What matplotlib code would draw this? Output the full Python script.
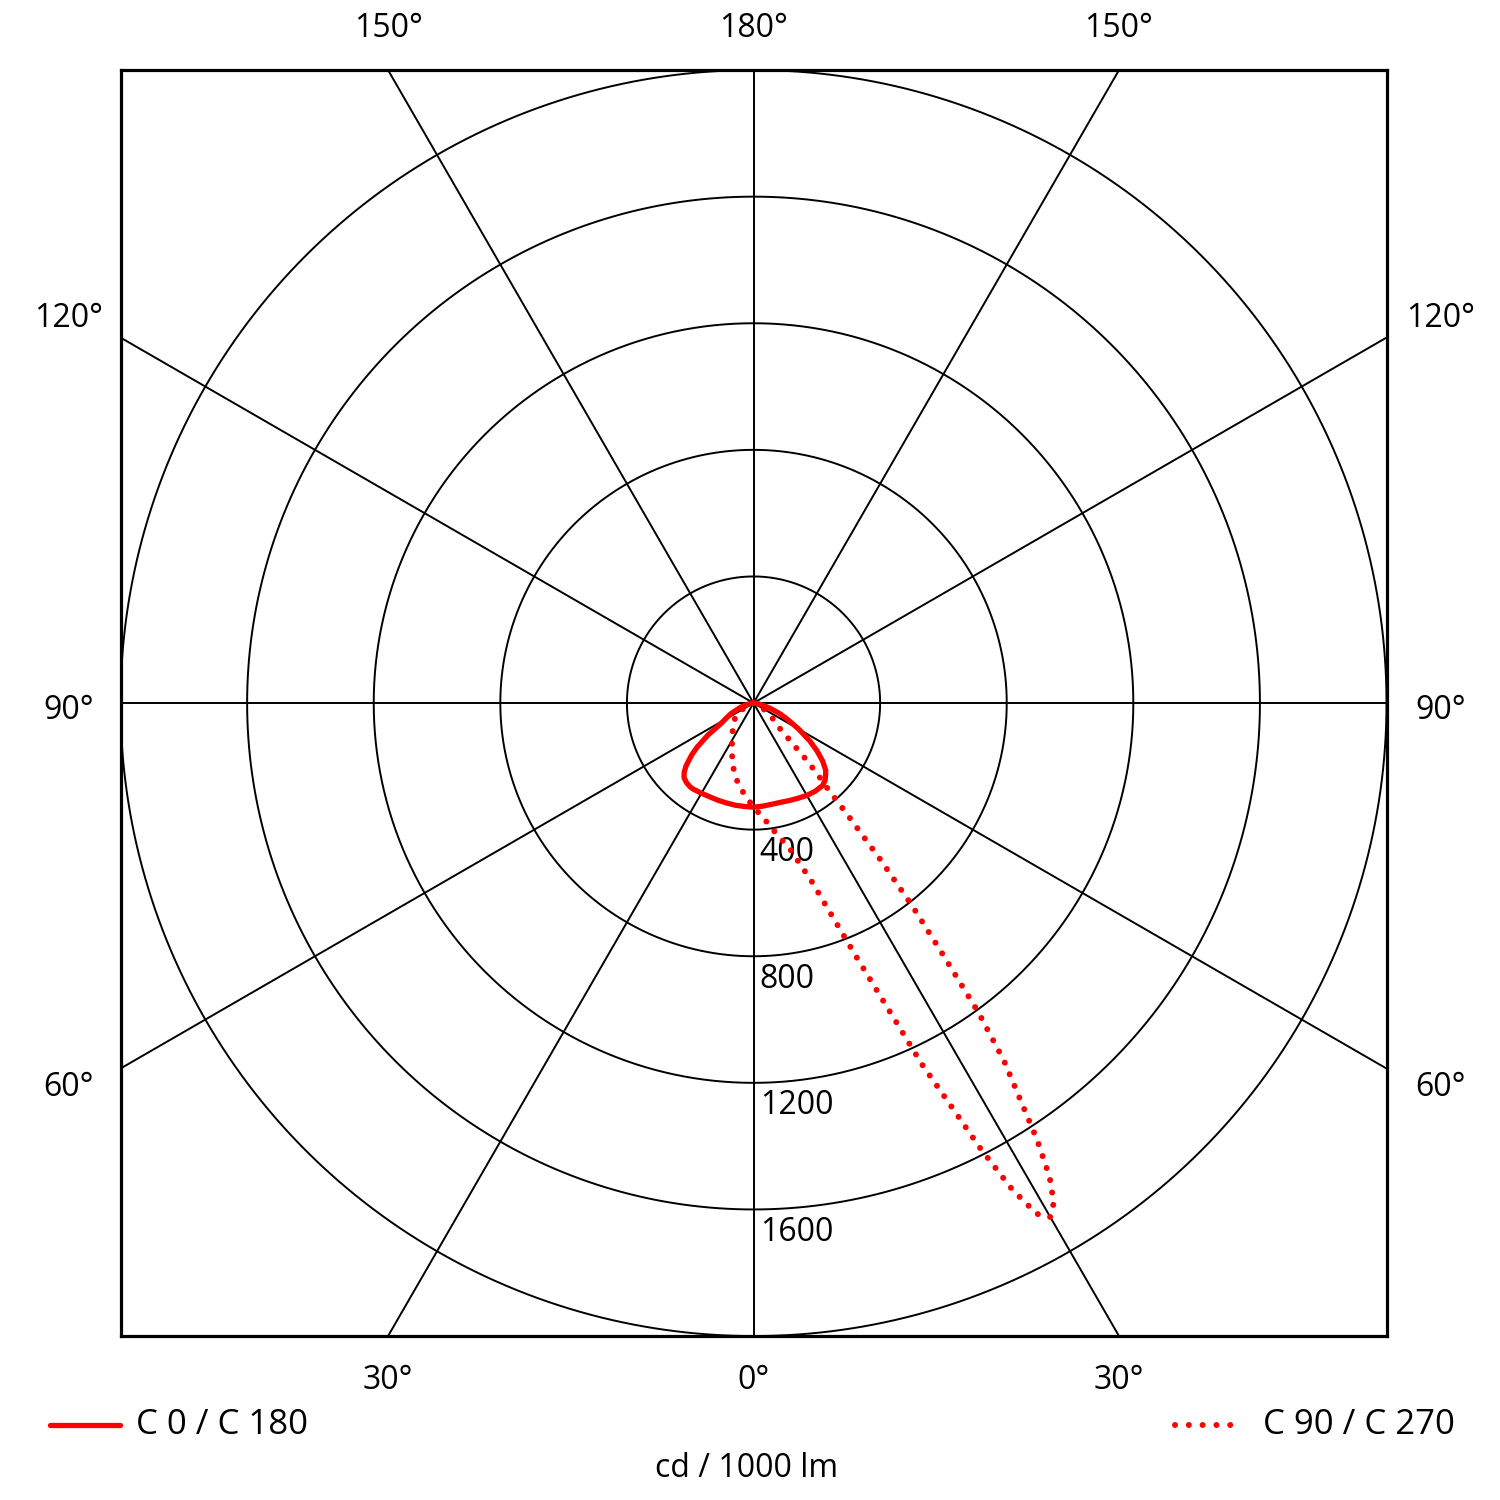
import numpy as np
import matplotlib
matplotlib.use("Agg")
import matplotlib.pyplot as plt
from matplotlib.lines import Line2D

plt.rcParams['font.family'] = ['Open Sans', 'DejaVu Sans']

# lysfordeling, gamma i grader og cd / 1000 lm
gamma_c0 = [0, 5, 10, 15, 20, 25, 30, 35, 40, 43, 45, 47, 50, 53, 56, 60, 64, 68, 72, 76, 80, 85, 90]
c0 = [329, 327, 325, 325, 328, 332, 337, 340, 340, 332, 322, 312, 285, 251, 215, 165, 122, 90, 58, 32, 16, 6, 0]
gamma_c180 = [0, 5, 10, 15, 20, 25, 30, 35, 37, 40, 43, 45, 47, 50, 52, 55, 57.5, 60, 65, 72, 78, 84, 90]
c180 = [329, 328, 328, 327, 327, 327, 329, 332, 332, 329, 322, 310, 292, 255, 226, 175, 124, 105, 78, 43, 20, 6, 0]

gamma_c90 = [0, 5, 10, 14, 18, 20, 22, 24, 25, 26, 27, 28, 29, 30, 31, 32, 33, 34, 35, 36, 37,
             38, 39, 40, 41, 42, 43, 44, 45, 46, 50, 53, 60, 70, 80, 90]
c90 = [329, 365, 420, 475, 590, 700, 860, 1090, 1260, 1400, 1580, 1740, 1845, 1875, 1842, 1765, 1645,
       1500, 1380, 1210, 990, 820, 640, 470, 350, 300, 240, 175, 140, 115, 85, 67, 35, 12, 4, 0]
gamma_c270 = [0, 5, 10, 15, 20, 26, 34, 48, 55, 60, 70, 80, 90]
c270 = [329, 294, 265, 232, 196, 156, 120, 84, 62, 42, 18, 6, 0]

sirkler = [400, 800, 1200, 1600, 2000]
sirkel_tekst = ["400", "800", "1200", "1600"]
eiker = [0, 30, 60, 90, 120, 150]
rmax = 2000


def kurve(g_h, v_h, g_v, v_v):
  # venstre side (negativ x) fra 90 til 0, så høyre side fra 0 til 90
  gv = np.radians(np.array(g_v)[::-1])
  rv = np.array(v_v)[::-1]
  gh = np.radians(np.array(g_h))
  rh = np.array(v_h)
  x = np.concatenate([-rv * np.sin(gv), rh * np.sin(gh)])
  y = np.concatenate([-rv * np.cos(gv), -rh * np.cos(gh)])
  return x, y


fig = plt.figure(figsize=(15, 15), dpi=100)
ax = fig.add_axes([0.08, 0.1093, 0.8447, 0.844])
ax.set_xlim(-rmax, rmax)
ax.set_ylim(-rmax, rmax)
ax.set_aspect("equal")
ax.set_xticks([])
ax.set_yticks([])
for s in ax.spines.values():
  s.set_linewidth(2.3)

# rutenett
t = np.linspace(0, 2 * np.pi, 721)
for r in sirkler:
  ax.plot(r * np.cos(t), r * np.sin(t), color="black", lw=1.4, zorder=1)
for e in eiker:
  a = np.radians(e)
  ax.plot([-4000 * np.sin(a), 4000 * np.sin(a)], [-4000 * np.cos(a), 4000 * np.cos(a)],
          color="black", lw=1.4, zorder=1)

for r, tekst in zip(sirkler, sirkel_tekst):
  ax.text(20, -r - 20, tekst, fontsize=23, ha="left", va="top")

# kurver
x, y = kurve(gamma_c0, c0, gamma_c180, c180)
ax.plot(x, y, color="red", lw=3.8, solid_joinstyle="round", solid_capstyle="round", zorder=3)
x, y = kurve(gamma_c90, c90, gamma_c270, c270)
ax.plot(x, y, color="red", lw=4.3, linestyle=(0, (0.01, 2.1)), dash_capstyle="round", zorder=3)

# vinkeltekster
for v in [-30, 0, 30]:
  xt = rmax * np.tan(np.radians(v))
  ax.text(xt, -rmax - 140, f"{abs(v)}°", fontsize=23, ha="center", va="center", clip_on=False)
  ax.text(xt, rmax + 130, f"{180 - abs(v)}°", fontsize=23, ha="center", va="center", clip_on=False)
for v in [60, 90, 120]:
  yt = -rmax / np.tan(np.radians(v)) if v != 90 else 0
  yt = yt - 60 if v == 60 else (yt + 60 if v == 120 else yt - 25)
  ax.text(-rmax - 165, yt, f"{v}°", fontsize=23, ha="center", va="center", clip_on=False)
  ax.text(rmax + 170, yt, f"{v}°", fontsize=23, ha="center", va="center", clip_on=False)

# forklaring
fig.add_artist(Line2D([0.0333, 0.08], [0.05, 0.05], color="red", lw=3.8, solid_capstyle="round"))
fig.text(0.091, 0.05, "C 0 / C 180", fontsize=25, ha="left", va="center")
fig.add_artist(Line2D([0.7833, 0.824], [0.05, 0.05], color="red", lw=4.3,
                      linestyle=(0, (0.01, 2.3)), dash_capstyle="round"))
fig.text(0.842, 0.05, "C 90 / C 270", fontsize=25, ha="left", va="center")
fig.text(0.498, 0.0213, "cd / 1000 lm", fontsize=23, ha="center", va="center")

fig.savefig("out.png", dpi=100, facecolor="white")
